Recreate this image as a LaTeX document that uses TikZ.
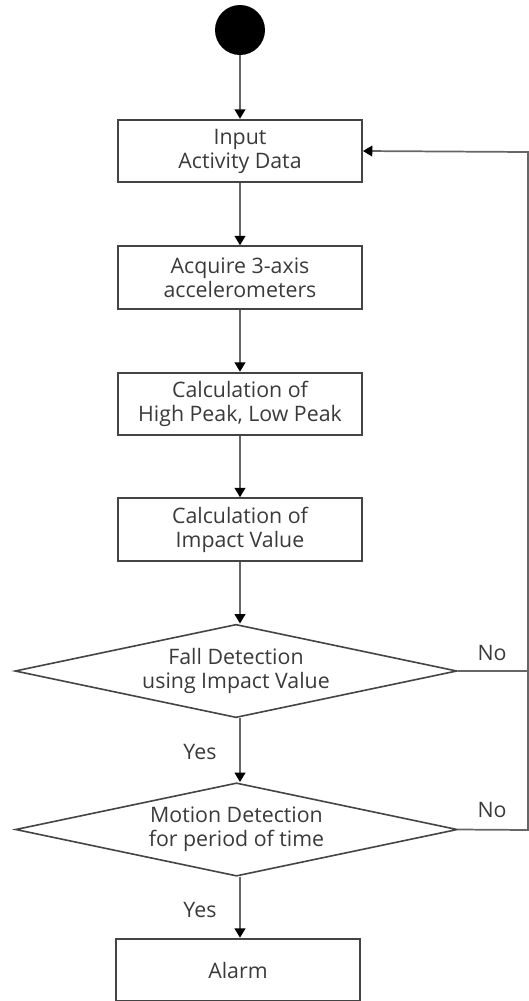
\documentclass[tikz,border=0pt]{standalone}
\usepackage{fontspec}
\setmainfont{Open Sans}
\usetikzlibrary{shapes.geometric,arrows.meta,positioning}
\definecolor{txt}{HTML}{3A3A3A}
\definecolor{edge}{HTML}{444444}
\definecolor{conn}{HTML}{666666}
\begin{document}
\begin{tikzpicture}[x=0.75pt,y=-0.75pt,
  stepbox/.style={draw=edge,line width=1.4pt,rectangle,minimum width=183pt,minimum height=47pt,inner sep=0pt,align=center,font=\fontsize{16}{18}\selectfont,text=txt},
  decbox/.style={draw=edge,line width=1.2pt,diamond,aspect=4.75,minimum width=331.5pt,minimum height=70pt,inner sep=0pt,align=center,font=\fontsize{16}{18}\selectfont,text=txt},
  lbl/.style={font=\fontsize{16}{18}\selectfont,text=txt,inner sep=0pt},
  conn/.style={draw=conn,line width=1.3pt,-{Triangle[width=8pt,length=7pt,color=black]}},
  plain/.style={draw=conn,line width=1.3pt}]
\useasboundingbox (0,0) rectangle (529,1001);
\node[circle,fill=black,minimum size=37.5pt,inner sep=0pt] (start) at (240,30) {};
\node[stepbox] (b1) at (240,151) {Input\\Activity Data};
\node[stepbox] (b2) at (240,277.5) {Acquire 3-axis\\accelerometers};
\node[stepbox] (b3) at (240,404) {Calculation of\\High Peak, Low Peak};
\node[stepbox] (b4) at (240,529.5) {Calculation of\\Impact Value};
\node[decbox] (d1) at (236,671) {Fall Detection\\using Impact Value};
\node[decbox] (d2) at (236.5,829.5) {Motion Detection\\for period of time};
\node[stepbox] (alarm) at (238,970) {Alarm};
\node[lbl] (no1) at (492,653) {No};
\node[lbl] (no2) at (492,810) {No};
\node[lbl] (yes1) at (200,752) {Yes};
\node[lbl] (yes2) at (200,910) {Yes};
\coordinate (r1) at (528,671);
\coordinate (r2) at (528,830);
\coordinate (rtop) at (528,152);
\draw[conn] (start) -- (b1);
\draw[conn] (b1) -- (b2);
\draw[conn] (b2) -- (b3);
\draw[conn] (b3) -- (b4);
\draw[conn] (b4.south) -- (b4.south |- d1.north);
\draw[conn] (d1.south -| b4.south) -- (b4.south |- d2.north);
\draw[conn] (d2.south -| b4.south) -- (b4.south |- alarm.north);
\draw[plain] (d1.east) -- (r1);
\draw[conn] (d2.east) -- (r2) -- (rtop) -- (b1.east);
\end{tikzpicture}
\end{document}
